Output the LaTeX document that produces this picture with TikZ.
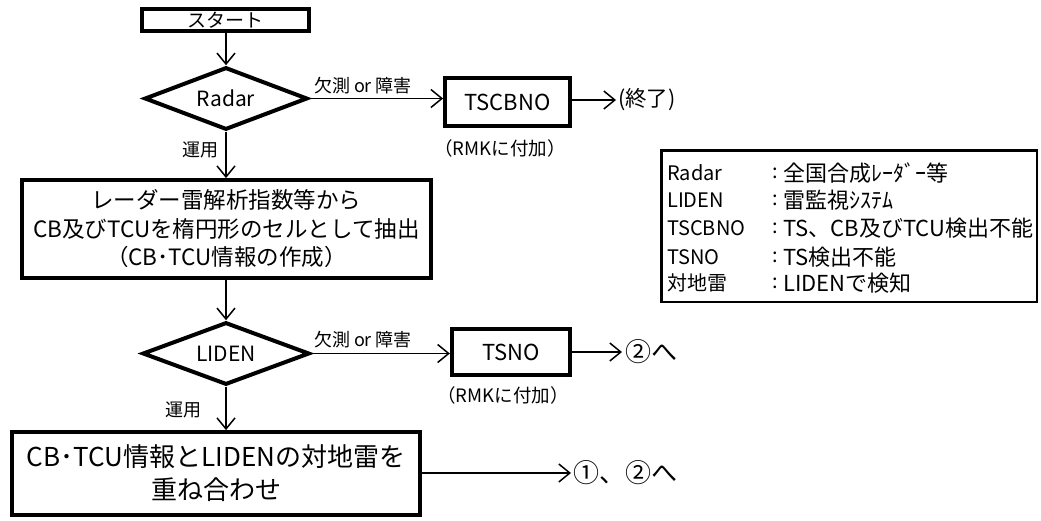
\documentclass[tikz,border=0pt]{standalone}
\usepackage{fontspec}
\setmainfont{Noto Sans CJK JP}
\usetikzlibrary{arrows.meta,shapes.geometric}
\newcommand{\fs}[1]{\fontsize{#1}{#1}\selectfont}
\tikzset{
  arr/.style={line width=1.5pt,-{Straight Barb[length=11pt,width=18pt]}},
  boxthick/.style={draw,line width=3.8pt,inner sep=0pt,align=center},
  dia/.style={draw,diamond,aspect=2.6,line width=4pt,inner sep=0pt},
  lbl/.style={inner sep=0pt},
  leg/.style={inner sep=0pt,anchor=west,font=\fs{20}},
  legv/.style={inner sep=0pt,anchor=west,font=\fs{22}},
}
\begin{document}
\begin{tikzpicture}[x=1pt,y=-1pt]
\useasboundingbox[fill=white] (0,0) rectangle (1041,520);
% start
\node[boxthick,minimum width=167pt,minimum height=22.5pt,font=\fs{19}] (start) at (225.5,20) {スタート};
% radar diamond
\node[dia,minimum width=163pt,minimum height=62.5pt,font=\fs{21}] (radar) at (226,98.5) {Radar};
\draw[arr] (start.south -| radar.north) -- (radar.north);
% TSCBNO
\node[boxthick,minimum width=125pt,minimum height=48.5pt,font=\fs{22}] (tscbno) at (507.5,102) {TSCBNO};
\draw[arr] (radar.east) -- (radar.east -| tscbno.west);
\node[lbl,font=\fs{18}] (l1) at (363,86) {欠測 or 障害};
\node[lbl,font=\fs{18.5}] (rmk1) at (500,148) {（RMKに付加）};
\coordinate (e1) at (616,100);
\draw[arr] (tscbno.east |- e1) -- (e1);
\node[lbl,anchor=west,font=\fs{21.5}] (end1) at (618,100) {(終了)};
% box2
\node[boxthick,minimum width=409pt,minimum height=98pt,font={\fontsize{22.5}{28.5}\selectfont}] (box2) at (226.5,229)
  {レーダー雷解析指数等から\\CB及びTCUを楕円形のセルとして抽出\\（CB･TCU情報の作成）};
\draw[arr] (radar.south) -- (radar.south |- box2.north);
\node[lbl,font=\fs{18}] (u1) at (200,150) {運用};
% LIDEN
\node[dia,minimum width=167pt,minimum height=62.5pt,font=\fs{21}] (liden) at (226,353.5) {LIDEN};
\draw[arr] (liden.north |- box2.south) -- (liden.north);
\node[boxthick,minimum width=118.5pt,minimum height=46.5pt,font=\fs{22}] (tsno) at (511,352) {TSNO};
\draw[arr] (liden.east) -- (liden.east -| tsno.west);
\node[lbl,font=\fs{18}] (l2) at (363,340) {欠測 or 障害};
\node[lbl,font=\fs{18.5}] (rmk2) at (503,395) {（RMKに付加）};
\coordinate (e2) at (622,352);
\draw[arr] (tsno.east |- e2) -- (e2);
\node[lbl,anchor=west,font=\fs{26}] (to2) at (625,352) {②へ};
\node[lbl,font=\fs{18}] (u2) at (183,410) {運用};
% bottom box
\node[boxthick,minimum width=408pt,minimum height=83pt,font={\fontsize{26}{33}\selectfont}] (box3) at (216,473.5)
  {CB･TCU情報とLIDENの対地雷を\\重ね合わせ};
\draw[arr] (liden.south) -- (liden.south |- box3.north);
\coordinate (e3) at (571,473);
\draw[arr] (box3.east |- e3) -- (e3);
\node[lbl,anchor=west,font=\fs{26}] (to12) at (573,473) {①、②へ};
% legend
\node[draw,line width=2.5pt,minimum width=375.5pt,minimum height=151.5pt,inner sep=0pt] (legend) at (849,226) {};
\node[leg] (k1) at (667,173) {Radar};
\node[leg] (k2) at (667,200) {LIDEN};
\node[leg] (k3) at (667,228) {TSCBNO};
\node[leg] (k4) at (667,257) {TSNO};
\node[leg] (k5) at (667,283) {対地雷};
\foreach \y/\n in {173/1,200/2,228/3,257/4,283/5}{
  \node[leg,anchor=center] (c\n) at (775,\y) {:};
}
\node[legv] (v1) at (783,173) {全国合成ﾚｰﾀﾞｰ等};
\node[legv] (v2) at (783,200) {雷監視ｼｽﾃﾑ};
\node[legv] (v3) at (783,228) {TS、CB及びTCU検出不能};
\node[legv] (v4) at (783,257) {TS検出不能};
\node[legv] (v5) at (783,283) {LIDENで検知};
\end{tikzpicture}
\end{document}
